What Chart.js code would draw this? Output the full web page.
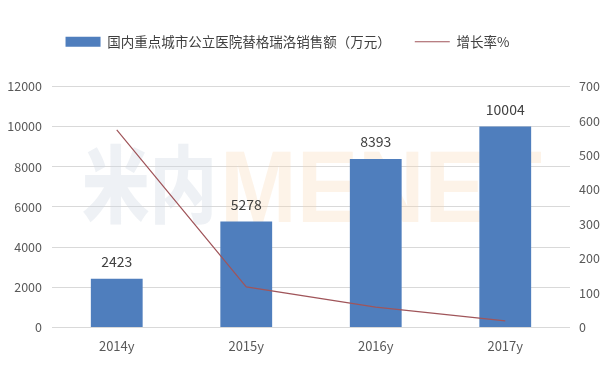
<!DOCTYPE html>
<html>
<head>
<meta charset="utf-8">
<script src="https://cdn.jsdelivr.net/npm/chart.js@4"></script>
<style>
  html, body { margin: 0; padding: 0; background: #fff; }
  #wrap { width: 615px; height: 376px; }
</style>
</head>
<body>
<div id="wrap"><canvas id="salesChart" width="615" height="376"></canvas></div>
<script>
// data
const years = ['2014y', '2015y', '2016y', '2017y'];
const sales = [2423, 5278, 8393, 10004];       // 万元
const growth = [574, 117.8, 59.0, 19.2];       // %
const salesLabel = '国内重点城市公立医院替格瑞洛销售额（万元）';
const growthLabel = '增长率%';

const FONT = '"Noto Sans CJK SC", "Noto Sans", sans-serif';

// faint site watermark behind the bars
const watermark = {
    id: 'watermark',
    beforeDatasetsDraw(chart) {
        const ctx = chart.ctx;
        ctx.save();
        ctx.textBaseline = 'alphabetic';
        ctx.textAlign = 'left';
        ctx.fillStyle = 'rgba(205, 216, 226, 0.35)';
        ctx.font = '900 84px ' + FONT;
        ctx.fillText('米内', 82, 216, 135);
        ctx.fillStyle = 'rgba(250, 215, 180, 0.3)';
        ctx.font = 'bold 102px "Liberation Sans", sans-serif';
        ctx.fillText('MENET', 220, 222, 322);
        ctx.restore();
    }
};

// value labels above the bars
const barValues = {
    id: 'barValues',
    afterDatasetsDraw(chart) {
        const ctx = chart.ctx;
        const meta = chart.getDatasetMeta(0);
        ctx.save();
        ctx.font = '14px ' + FONT;
        ctx.fillStyle = '#404040';
        ctx.textAlign = 'center';
        ctx.textBaseline = 'middle';
        meta.data.forEach((bar, i) => {
            ctx.fillText(String(sales[i]), bar.x, bar.y - 17);
        });
        ctx.restore();
    }
};

// legend sits a bit left of centre, with room below it
const legendTweak = {
    id: 'legendTweak',
    beforeInit(chart) {
        const lg = chart.legend;
        const fit = lg.fit;
        lg.fit = function () {
            fit.call(this);
            this.height += 28;
        };
        const draw = lg.draw;
        lg.draw = function (area) {
            chart.ctx.save();
            chart.ctx.translate(-20, 0);
            draw.call(this, area);
            chart.ctx.restore();
        };
    }
};

const plainTick = v => String(v);

const ctx = document.getElementById('salesChart').getContext('2d');
new Chart(ctx, {
    data: {
        labels: years,
        datasets: [{
            type: 'bar',
            label: salesLabel,
            data: sales,
            backgroundColor: '#4f7ebd',
            borderWidth: 0,
            categoryPercentage: 1,
            barPercentage: 0.4,
            yAxisID: 'y',
            order: 1
        }, {
            type: 'line',
            label: growthLabel,
            data: growth,
            borderColor: '#a0555a',
            backgroundColor: '#a0555a',
            borderWidth: 1.2,
            pointRadius: 0,
            tension: 0,
            yAxisID: 'y1',
            order: 0
        }]
    },
    options: {
        responsive: false,
        devicePixelRatio: 1,
        animation: false,
        layout: { padding: { left: 0, right: 0, top: 11, bottom: 19 } },
        plugins: {
            tooltip: { enabled: false },
            legend: {
                position: 'top',
                labels: {
                    font: { family: FONT, size: 13.5 },
                    color: '#404040',
                    usePointStyle: true,
                    pointStyleWidth: 35,
                    boxHeight: 10,
                    padding: 24,
                    generateLabels(chart) {
                        const items = Chart.defaults.plugins.legend.labels.generateLabels(chart);
                        items.sort((a, b) => a.datasetIndex - b.datasetIndex);
                        items.forEach(it => {
                            it.pointStyle = it.datasetIndex === 0 ? 'rect' : 'line';
                        });
                        return items;
                    }
                }
            }
        },
        scales: {
            x: {
                offset: true,
                grid: { display: false },
                border: { display: false },
                ticks: { font: { family: FONT, size: 13 }, color: '#595959', padding: 3 }
            },
            y: {
                position: 'left',
                min: 0, max: 12000,
                afterFit(scale) { scale.width = 52; },
                ticks: { stepSize: 2000, callback: plainTick, font: { family: FONT, size: 12.5 }, color: '#595959', padding: 10 },
                grid: { color: '#d9d9d9', drawTicks: false },
                border: { display: false }
            },
            y1: {
                position: 'right',
                min: 0, max: 700,
                afterFit(scale) { scale.width = 45; },
                ticks: { stepSize: 100, callback: plainTick, font: { family: FONT, size: 12.5 }, color: '#595959', padding: 9 },
                grid: { drawOnChartArea: false, drawTicks: false },
                border: { display: false }
            }
        }
    },
    plugins: [legendTweak, watermark, barValues]
});
</script>
</body>
</html>
